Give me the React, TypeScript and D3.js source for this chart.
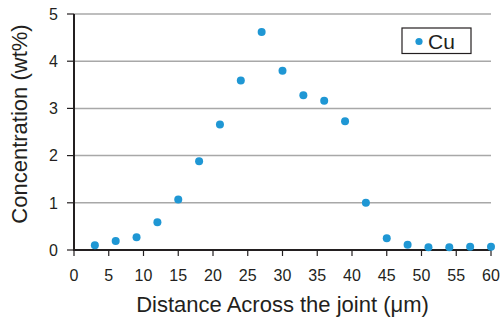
import React from 'react'
import * as d3 from 'd3'

const distances = [3, 6, 9, 12, 15, 18, 21, 24, 27, 30, 33, 36, 39, 42, 45, 48, 51, 54, 57, 60]
const cuValues = [0.1, 0.19, 0.27, 0.59, 1.07, 1.88, 2.66, 3.59, 4.62, 3.8, 3.28, 3.16, 2.73, 1.0, 0.25, 0.11, 0.06, 0.06, 0.07, 0.07]
const xTicks = [0, 5, 10, 15, 20, 25, 30, 35, 40, 45, 50, 55, 60]
const yTicks = [0, 1, 2, 3, 4, 5]
const seriesName = 'Cu'

const font = "'Liberation Sans', Arial, sans-serif"
const blue = '#1f97d4'
const ink = '#231f20'

export default function App() {
  const width = 503
  const height = 321
  const margin = { left: 74, right: 12, top: 14, bottom: 71 }

  const x = d3.scaleLinear().domain([0, 60]).range([margin.left, width - margin.right])
  const y = d3.scaleLinear().domain([0, 5]).range([height - margin.bottom, margin.top])

  return (
    <svg width={width} height={height} style={{ position: 'absolute', left: 0, top: 0 }} fontFamily={font}>
      {/* gridlines */}
      {yTicks.slice(1).map(t => (
        <line key={'g' + t} x1={x(0)} x2={x(60)} y1={y(t)} y2={y(t)} stroke="#a8a8a8" strokeWidth={1.5} />
      ))}

      {/* y axis */}
      <line x1={x(0)} x2={x(0)} y1={y(5)} y2={y(0)} stroke={ink} strokeWidth={2} />
      {yTicks.map(t => (
        <g key={'y' + t}>
          <line x1={x(0) - 7} x2={x(0)} y1={y(t)} y2={y(t)} stroke={ink} strokeWidth={1.2} />
          <text x={x(0) - 16} y={y(t)} dy="0.36em" textAnchor="end" fontSize={16} fill={ink}>{t}</text>
        </g>
      ))}

      {/* x axis */}
      <line x1={x(0) - 1} x2={x(60)} y1={y(0)} y2={y(0)} stroke={ink} strokeWidth={2} />
      {xTicks.map(t => (
        <g key={'x' + t}>
          <line x1={x(t)} x2={x(t)} y1={y(0)} y2={y(0) + 6} stroke={ink} strokeWidth={1.2} />
          <text x={x(t)} y={281} textAnchor="middle" fontSize={16} fill={ink}>{t}</text>
        </g>
      ))}

      {/* axis titles */}
      <text x={(x(0) + x(60)) / 2} y={312} textAnchor="middle" fontSize={22} fill={ink}>
        Distance Across the joint (μm)
      </text>
      <text transform={`translate(27,${124}) rotate(-90)`} textAnchor="middle" fontSize={22} fill={ink}>
        Concentration (wt%)
      </text>

      {/* points */}
      {distances.map((d, i) => (
        <circle key={'p' + i} cx={x(d)} cy={y(cuValues[i])} r={4} fill={blue} />
      ))}

      {/* legend */}
      <rect x={402} y={28} width={69} height={25.5} fill="white" stroke={ink} strokeWidth={1.2} />
      <circle cx={419} cy={41.5} r={3.6} fill={blue} />
      <text x={428} y={41.5} dy="0.36em" fontSize={21} fill={ink}>{seriesName}</text>
    </svg>
  )
}
